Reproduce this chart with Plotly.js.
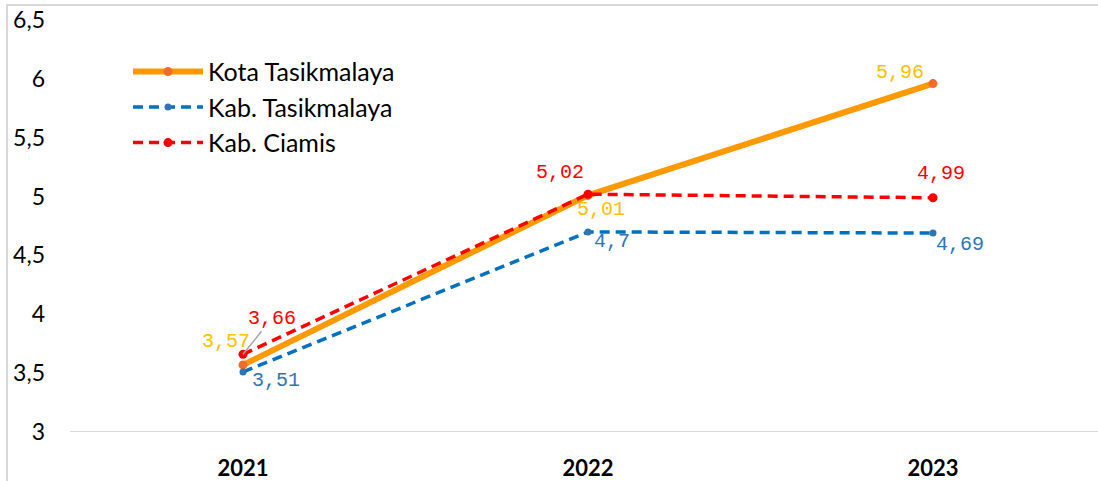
<!DOCTYPE html>
<html>
<head>
<meta charset="utf-8">
<script src="https://cdn.plot.ly/plotly-3.0.1.min.js"></script>
<style>
  html, body { margin: 0; padding: 0; background: #fff; }
  #wrap { position: relative; width: 1098px; height: 481px; overflow: hidden; }
  #chart { position: absolute; left: 0; top: 0; width: 1098px; height: 481px; }
  #frame { position: absolute; left: 6px; top: 4px; width: 1200px; height: 600px;
           border-left: 2px solid #d9d9d9; border-top: 2px solid #d9d9d9; pointer-events: none; }
</style>
</head>
<body>
<div id="wrap">
  <div id="chart"></div>
  <div id="frame"></div>
</div>
<script>
// ---- data ----
const years = ["2021", "2022", "2023"];
const seriesNames = ["Kota Tasikmalaya", "Kab. Tasikmalaya", "Kab. Ciamis"];
const kotaTasikmalaya = [3.57, 5.01, 5.96];
const kabTasikmalaya = [3.51, 4.70, 4.69];
const kabCiamis = [3.66, 5.02, 4.99];
const yTickVals = [3, 3.5, 4, 4.5, 5, 5.5, 6, 6.5];
const yTickText = ["3", "3,5", "4", "4,5", "5", "5,5", "6", "6,5"];

// ---- styles ----
const lineColors = ["#FF9900", "#0070C0", "#FF0000"];
const markerColors = ["#F26B2A", "#2E75B6", "#FF0000"];
const labelColors = ["#FFC000", "#2E75B6", "#FF0000"];
const lineWidths = [6, 3.5, 3.5];
const dashes = ["solid", "10px,6px", "10px,6px"];
const markerSizes = [9, 7, 9];

// label offsets (px) for each series/point
const labelOffsets = [
  [[-17, -23], [13, 14], [-33, -11]],
  [[33, 9], [24, 10], [27, 11]],
  [[29, -36], [-28, -22], [8, -24]]
];

const allValues = [kotaTasikmalaya, kabTasikmalaya, kabCiamis];

function fmt(v) {
  let s = String(Math.round(v * 100) / 100);
  return s.replace('.', ',');
}

const traces = allValues.map((vals, i) => ({
  type: 'scatter',
  mode: 'lines+markers',
  name: seriesNames[i],
  x: years,
  y: vals,
  line: { color: lineColors[i], width: lineWidths[i], dash: dashes[i] },
  marker: { color: markerColors[i], size: markerSizes[i] },
  hoverinfo: 'skip'
}));

const annotations = [];
allValues.forEach((vals, i) => {
  vals.forEach((v, j) => {
    const off = labelOffsets[i][j];
    const withLeader = (i === 2 && j === 0);
    annotations.push({
      x: j, y: v, xref: 'x', yref: 'y',   // category index on the category axis
      text: fmt(v),
      showarrow: withLeader,
      arrowhead: 0, arrowwidth: 1.5, arrowcolor: '#A6A6A6',
      ax: off[0], ay: off[1],
      xshift: withLeader ? 0 : off[0],
      yshift: withLeader ? 0 : -off[1],
      font: { family: '"Liberation Mono", "DejaVu Sans Mono", monospace', size: 20, color: labelColors[i] }
    });
  });
});

const plotLeft = 70, plotRight = 1098, catPx0 = 243, catStep = 345;

const layout = {
  width: 1098, height: 481,
  margin: { l: plotLeft, r: 0, t: 20, b: 49 },
  paper_bgcolor: '#fff', plot_bgcolor: '#fff',
  showlegend: true,
  legend: {
    x: (128 - plotLeft) / (plotRight - plotLeft), y: 0.93, xanchor: 'left', yanchor: 'top',
    font: { family: 'Lato, "Open Sans", sans-serif', size: 25, color: '#000' },
    bgcolor: 'rgba(0,0,0,0)', tracegroupgap: 0, itemwidth: 70
  },
  xaxis: {
    type: 'category',
    range: [(plotLeft - catPx0) / catStep, (plotRight - catPx0) / catStep],
    showgrid: false, zeroline: false,
    showline: false,
    ticks: '', ticklabelstandoff: 21,
    tickfont: { family: 'Lato, "Open Sans", sans-serif', size: 22, color: '#000', weight: 'bold' }
  },
  yaxis: {
    range: [3, 6.5],
    tickvals: yTickVals, ticktext: yTickText,
    showgrid: false, zeroline: false, showline: false,
    ticks: '', ticklabelstandoff: 24,
    tickfont: { family: 'Lato, "Open Sans", sans-serif', size: 23, color: '#000' }
  },
  shapes: [{
    type: 'line', xref: 'paper', yref: 'y', x0: 0, x1: 1, y0: 3, y1: 3,
    line: { color: '#D9D9D9', width: 2 }, layer: 'below'
  }],
  annotations: annotations
};

Plotly.newPlot('chart', traces, layout, { displayModeBar: false, staticPlot: true });
</script>
</body>
</html>
